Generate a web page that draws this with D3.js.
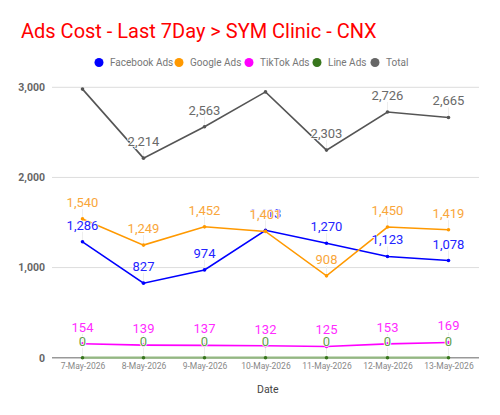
<!DOCTYPE html>
<html><head><meta charset="utf-8">
<script src="https://cdn.jsdelivr.net/npm/d3@7"></script>
<style>body{margin:0;background:#fff;font-family:Roboto,sans-serif}</style>
</head><body><svg id="c" width="500" height="415"></svg>
<script>
const dates = ["7-May-2026","8-May-2026","9-May-2026","10-May-2026","11-May-2026","12-May-2026","13-May-2026"];
const facebook = [1286, 827, 974, 1413, 1270, 1123, 1078];
const google = [1540, 1249, 1452, 1401, 908, 1450, 1419];
const tiktok = [154, 139, 137, 132, 125, 153, 169];
const lineAds = [0, 0, 0, 0, 0, 0, 0];
const total = [2980, 2214, 2563, 2949, 2303, 2726, 2665];
const yTicks = [0, 1000, 2000, 3000];
const seriesNames = ["Facebook Ads","Google Ads","TikTok Ads","Line Ads","Total"];

const series = [
  {name:seriesNames[0], values:facebook, color:"#0000ff", label:"#2323ff"},
  {name:seriesNames[1], values:google, color:"#ff9900", label:"#f9a63a"},
  {name:seriesNames[2], values:tiktok, color:"#ff00ff", label:"#ff2cff"},
  {name:seriesNames[3], values:lineAds, color:"#93b881", label:"#5f9e4a", legend:"#38761d", dot:"#38761d"},
  {name:seriesNames[4], values:total, color:"#555555", label:"#6a6a6a", legend:"#666666"}
];

const svg = d3.select("#c");
const L=52, R=479, T=87.3, B=357.7;
const x = d3.scalePoint().domain(dates).range([L,R]).padding(0.5);
const y = d3.scaleLinear().domain([0,3000]).range([B,T]);

svg.append("text").attr("x",21).attr("y",38).attr("fill","#ff0000")
  .attr("font-size",20).attr("font-family","Roboto").text("Ads Cost - Last 7Day > SYM Clinic - CNX");

// legend
const legX = [99,179,249,317,375];
const leg = svg.append("g");
series.forEach((s,i)=>{
  leg.append("circle").attr("cx",legX[i]).attr("cy",62.5).attr("r",4.5).attr("fill",s.legend||s.color);
  leg.append("text").attr("x",legX[i]+11).attr("y",66).attr("font-size",10).attr("fill","#777").text(s.name);
});

// grid
const g = svg.append("g");
g.selectAll("line.grid").data(yTicks.filter(d=>d>0)).join("line")
  .attr("x1",L).attr("x2",R).attr("y1",d=>y(d)).attr("y2",d=>y(d))
  .attr("stroke","#dddddd").attr("stroke-width",1);
g.append("line").attr("x1",L).attr("x2",R).attr("y1",y(0)).attr("y2",y(0)).attr("stroke","#999").attr("stroke-width",1.5);

// y axis labels
const yAxis = d3.axisLeft(y).tickValues(yTicks).tickFormat(d3.format(",")).tickSize(0).tickPadding(7);
const ya = svg.append("g").attr("transform",`translate(${L},0)`).call(yAxis);
ya.select(".domain").remove();
ya.selectAll("text").attr("font-size",10.5).attr("font-weight","bold").attr("fill","#666").attr("font-family","Roboto");

// x axis labels
const xAxis = d3.axisBottom(x).tickSize(0).tickPadding(5);
const xa = svg.append("g").attr("transform",`translate(0,${B})`).call(xAxis);
xa.select(".domain").remove();
xa.selectAll("text").attr("font-size",8.5).attr("fill","#888").attr("font-family","Roboto");

svg.append("text").attr("x",257).attr("y",393).attr("font-size",10.5).attr("fill","#444").text("Date");

const visible = v => (y(v)-12-10) >= T-3;

// leader lines
const leaders = svg.append("g");
series.forEach(s=>{
  s.values.forEach((v,i)=>{
    if (!visible(v)) return;
    leaders.append("line").attr("x1",x(dates[i])).attr("x2",x(dates[i]))
      .attr("y1",y(v)-10).attr("y2",y(v)).attr("stroke","#eeeeee").attr("stroke-width",1);
  });
});

// lines
const lineGen = d3.line().x((d,i)=>x(dates[i])).y(d=>y(d));
series.forEach(s=>{
  svg.append("path").datum(s.values).attr("d",lineGen).attr("fill","none")
    .attr("stroke",s.color).attr("stroke-width",s.name==="Line Ads"?2.2:1.6);
  svg.selectAll(null).data(s.values).join("circle")
    .attr("cx",(d,i)=>x(dates[i])).attr("cy",d=>y(d)).attr("r",1.8).attr("fill",s.dot||s.color);
});

// labels
series.forEach(s=>{
  s.values.forEach((v,i)=>{
    if (!visible(v)) return;
    svg.append("text").attr("x",x(dates[i])).attr("y",y(v)-12).attr("text-anchor","middle")
      .attr("font-size",13).attr("fill",s.label).attr("font-family","Roboto")
      .attr("stroke","#fff").attr("stroke-width",1.5).attr("paint-order","stroke")
      .text(d3.format(",")(v));
  });
});
</script></body></html>
